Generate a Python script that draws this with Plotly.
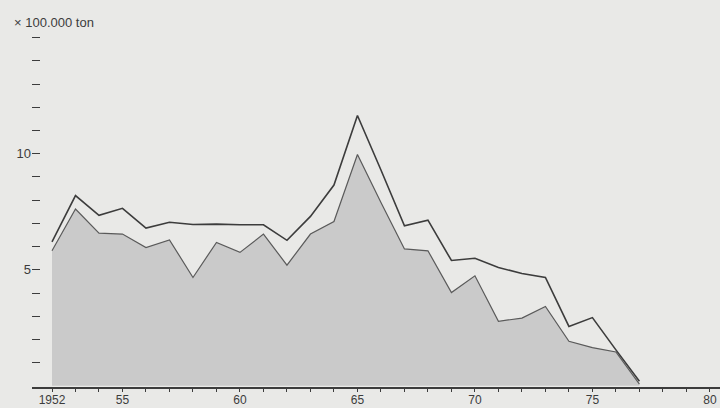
import plotly.graph_objects as go

years = list(range(1952, 1978))
total_catch = [6.2, 8.2, 7.35, 7.65, 6.8, 7.05, 6.95, 6.97, 6.94, 6.94, 6.27, 7.3, 8.65,
               11.65, 9.3, 6.9, 7.14, 5.4, 5.5, 5.1, 4.84, 4.67, 2.56, 2.94, 1.55, 0.2]
lower_catch = [5.82, 7.62, 6.58, 6.54, 5.96, 6.29, 4.67, 6.18, 5.75, 6.54, 5.2, 6.54, 7.08,
               9.97, 7.9, 5.9, 5.82, 4.02, 4.74, 2.78, 2.92, 3.42, 1.92, 1.65, 1.46, 0.07]

x_tick_vals = [1952, 1955, 1960, 1965, 1970, 1975, 1980]
x_tick_text = ["1952", "55", "60", "65", "70", "75", "80"]
y_tick_vals = list(range(1, 16))
y_tick_text = ["5" if v == 5 else "10" if v == 10 else "" for v in y_tick_vals]
unit_label = "× 100.000 ton"

bg = "#e9e9e7"
ink = "#3c3c3c"

fig = go.Figure()
fig.add_trace(go.Scatter(
    x=years, y=lower_catch, mode="lines", fill="tozeroy",
    fillcolor="#cacaca", line=dict(color="#5a5a5a", width=1.2),
    showlegend=False, hoverinfo="skip"))
fig.add_trace(go.Scatter(
    x=years, y=total_catch, mode="lines",
    line=dict(color=ink, width=1.6),
    showlegend=False, hoverinfo="skip"))

fig.update_layout(
    width=720, height=408,
    margin=dict(l=32, r=0, t=15, b=21),
    paper_bgcolor=bg, plot_bgcolor=bg,
    font=dict(family="Liberation Sans, Arial, sans-serif", color=ink, size=12),
    xaxis=dict(
        range=[1951.149, 1980.43],
        tickmode="array", tickvals=x_tick_vals, ticktext=x_tick_text,
        ticks="outside", ticklen=3, tickwidth=1.2, tickcolor=ink,
        minor=dict(tickvals=list(range(1952, 1981)), ticks="outside", ticklen=3,
                   tickwidth=1, tickcolor=ink),
        showline=True, linecolor=ink, linewidth=1.5,
        showgrid=False, zeroline=False,
        tickfont=dict(size=12, color=ink),
        ticklabelstandoff=-2,
        automargin=False,
    ),
    yaxis=dict(
        range=[-0.05, 15.98],
        tickmode="array", tickvals=y_tick_vals, ticktext=y_tick_text,
        ticks="inside", ticklen=8, tickwidth=1.4, tickcolor=ink,
        showline=False, showgrid=False, zeroline=False,
        tickfont=dict(size=13, color=ink),
        automargin=False,
    ),
    annotations=[dict(
        text=unit_label, xref="paper", yref="paper",
        x=-0.029, y=0.981, xanchor="left", yanchor="middle",
        showarrow=False, font=dict(size=13, color=ink))],
)

fig.write_html(
    "out.html",
    config={"displayModeBar": False},
    post_script="document.body.style.margin='0';document.body.style.overflow='hidden';"
                "document.body.style.background='" + bg + "';",
)
